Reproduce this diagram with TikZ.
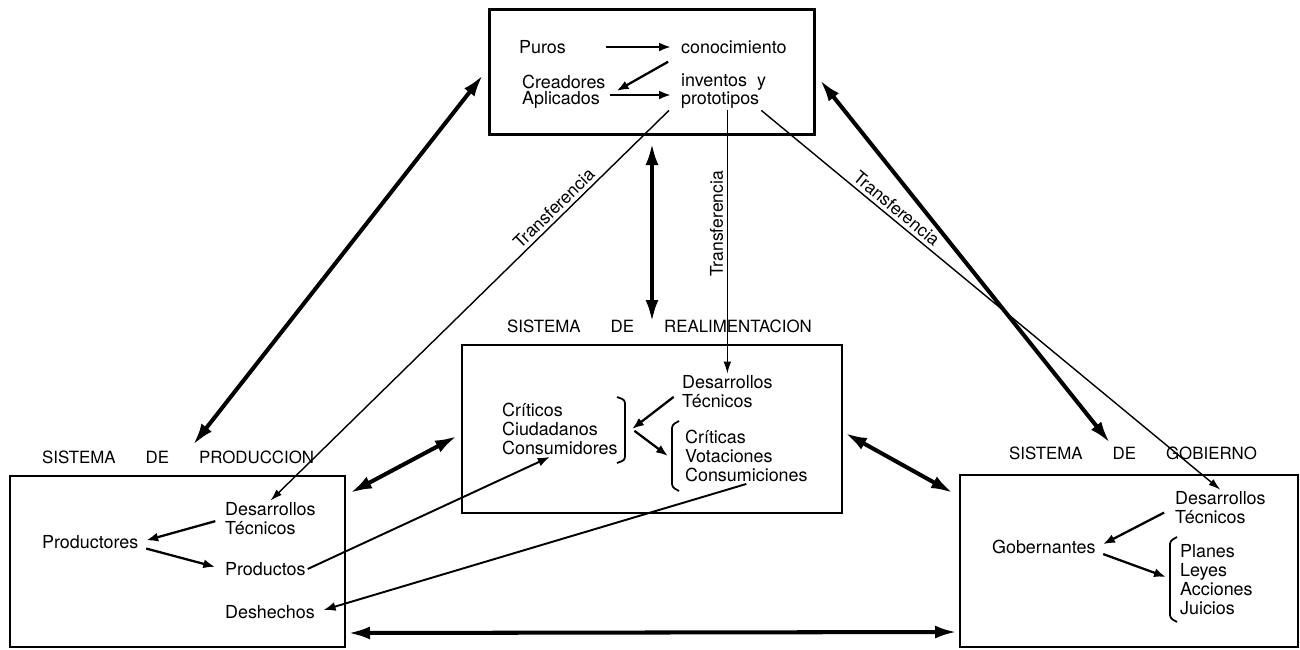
\documentclass[tikz,border=0pt]{standalone}
\usepackage{fontspec}
\setmainfont{TeX Gyre Heros}
\usetikzlibrary{arrows.meta}
\newcommand{\sysgap}{\hspace{6mm}}

\begin{document}
\begin{tikzpicture}[x=0.2mm,y=-0.2mm,
  txt/.style={font=\fontsize{10.2}{10.8}\selectfont,inner sep=1pt,anchor=west,align=left},
  systxt/.style={font=\fontsize{9.6}{10.8}\selectfont,inner sep=1pt,anchor=west},
  lbl/.style={font=\fontsize{10}{10.8}\selectfont,inner sep=2pt},
  sysbox/.style={draw,line width=1.3pt,inner sep=0pt},
  arr/.style={-{Latex[length=2.4mm,width=1.8mm]},line width=1.3pt},
  trans/.style={-{Latex[length=2.4mm,width=1.5mm]},line width=0.8pt},
  big/.style={{Latex[length=4.4mm,width=2.6mm]}-{Latex[length=4.4mm,width=2.6mm]},line width=2.3pt},
  brk/.style={line width=1pt,rounded corners=0.6mm}]
  \useasboundingbox (0,0) rectangle (1300,650);

  % cajas
  \node[sysbox,minimum width=65mm,minimum height=25mm] (inv) at (652,72){};
  \node[sysbox,minimum width=76mm,minimum height=33.6mm] (real) at (652,429){};
  \node[sysbox,minimum width=67mm,minimum height=34.2mm] (prod) at (177.5,561.5){};
  \node[sysbox,minimum width=67.6mm,minimum height=34.4mm] (gobi) at (1129,561){};

  \node[systxt] (prodT) at (40,457){SISTEMA\sysgap DE\sysgap PRODUCCION};
  \node[systxt] (realT) at (505,326){SISTEMA\sysgap DE\sysgap REALIMENTACION};
  \node[systxt] (gobT) at (1007,453){SISTEMA\sysgap DE\sysgap GOBIERNO};

  % investigacion
  \node[txt] (puros) at (517,47){Puros};
  \node[txt] (conoc) at (679,47){conocimiento};
  \node[txt] (creadores) at (520,82){Creadores};
  \node[txt] (aplicados) at (520,100){Aplicados};
  \node[txt] (inventos) at (679,82){inventos\ \ y};
  \node[txt] (proto) at (679,100){prototipos};
  \draw[arr,shorten <=7.6mm,shorten >=1.6mm] (puros.east) -- (conoc.west);
  \draw[arr,shorten <=2.5mm] (conoc.south west) -- ([xshift=1.8mm]creadores.south east);
  \draw[arr,shorten <=1.6mm,shorten >=1.6mm] ([yshift=1mm]aplicados.east) -- ([yshift=1mm]proto.west);

  % realimentacion
  \node[txt] (desR) at (680,392){Desarrollos\\Técnicos};
  \node[txt] (critR) at (500,429){Críticos\\Ciudadanos\\Consumidores};
  \node[txt] (critica) at (683,456){Críticas\\Votaciones\\Consumiciones};
  \draw[brk] (617,397) -- (625,400) -- (625,460) -- (617,463);
  \draw[brk] (679,421) -- (672,425) -- (672,487) -- (679,491);
  \coordinate (rbR) at (632,429);
  \coordinate (lbR) at (668,456);
  \draw[arr,shorten <=1.6mm] (desR.west) -- (rbR);
  \draw[arr,shorten <=0.6mm] (rbR) -- (lbR);

  % produccion
  \node[txt] (desP) at (223,519){Desarrollos\\Técnicos};
  \node[txt] (productores) at (40,542){Productores};
  \node[txt] (productos) at (223,569){Productos};
  \node[txt] (deshechos) at (223,612){Deshechos};
  \draw[arr,shorten <=1.6mm,shorten >=1.2mm] (desP.west) -- (productores.east);
  \draw[arr,shorten <=1.2mm,shorten >=1.6mm] ([yshift=-1mm]productores.east) -- (productos.west);

  % gobierno
  \node[txt] (desG) at (1173,508){Desarrollos\\Técnicos};
  \node[txt] (gob) at (990,547){Gobernantes};
  \node[txt] (planes) at (1178,580){Planes\\Leyes\\Acciones\\Juicios};
  \draw[brk] (1177,537) -- (1170,541) -- (1170,618) -- (1177,622);
  \coordinate (lbG) at (1166,577);
  \draw[arr,shorten <=2mm,shorten >=1.2mm] (desG.west) -- (gob.east);
  \draw[arr,shorten <=1.2mm] ([yshift=-1mm]gob.east) -- (lbG);

  % transferencias
  \draw[trans] ([xshift=-2mm]proto.south west) -- (desP.north)
    node[lbl,pos=0.27,sloped,above]{Transferencia};
  \draw[trans] (proto.south -| desR.north) -- (desR.north)
    node[lbl,pos=0.43,rotate=90,anchor=south]{Transferencia};
  \draw[trans] (proto.south east) -- (desG.north)
    node[lbl,pos=0.28,sloped,above]{Transferencia};

  \draw[arr,line width=1.1pt] (productos.east) -- ([xshift=-2mm]critR.south);
  \draw[arr,line width=1.1pt,shorten >=1.4mm] (critica.south) -- (deshechos.east);

  % flechas gruesas
  \coordinate (invL) at (483,75);   \coordinate (prodN) at (193,445);
  \coordinate (invR) at (820,80);   \coordinate (gobN) at (1110,443);
  \coordinate (invS) at (652,143);  \coordinate (realN) at (652,322);
  \coordinate (realW) at (457,436); \coordinate (prodE) at (350,493);
  \coordinate (realE) at (845,433); \coordinate (gobW) at (953,493);
  \coordinate (prodB) at (348,633); \coordinate (gobB) at (957,632);
  \draw[big] (invL) -- (prodN);
  \draw[big] (invR) -- (gobN);
  \draw[big] (invS) -- (realN);
  \draw[big] (realW) -- (prodE);
  \draw[big] (realE) -- (gobW);
  \draw[big] (prodB) -- (gobB);
\end{tikzpicture}
\end{document}
